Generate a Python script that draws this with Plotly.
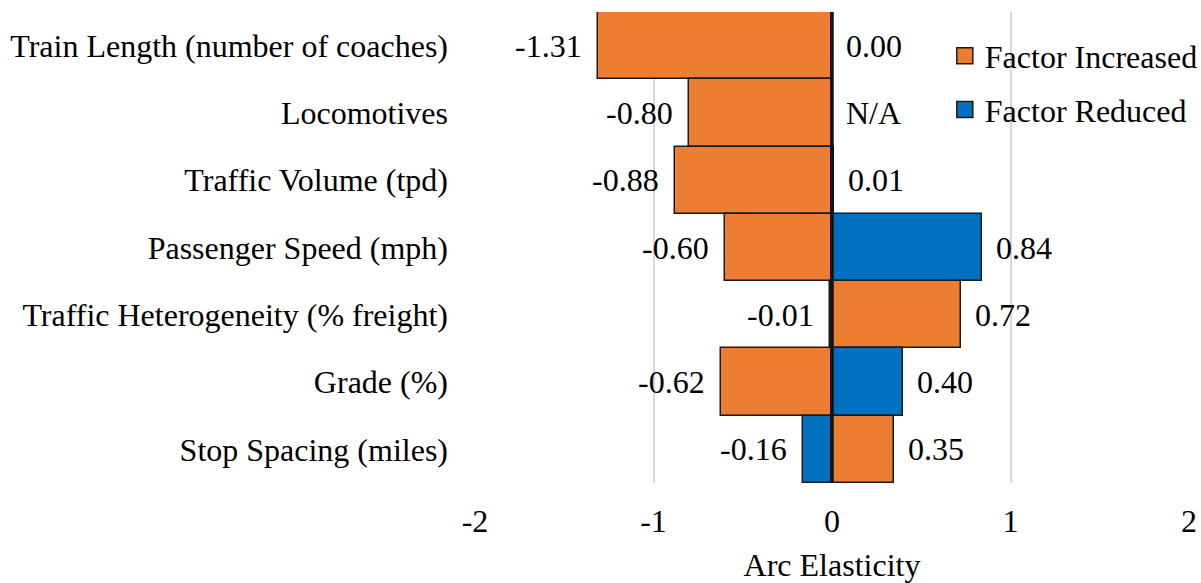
import plotly.graph_objects as go

categories = [
    "Train Length (number of coaches)",
    "Locomotives",
    "Traffic Volume (tpd)",
    "Passenger Speed (mph)",
    "Traffic Heterogeneity (% freight)",
    "Grade (%)",
    "Stop Spacing (miles)",
]
left_values = [-1.31, -0.80, -0.88, -0.60, -0.01, -0.62, -0.16]
left_groups = ["Increased", "Increased", "Increased", "Increased", "Increased", "Increased", "Reduced"]
left_labels = ["-1.31", "-0.80", "-0.88", "-0.60", "-0.01", "-0.62", "-0.16"]
right_values = [0.00, None, 0.01, 0.84, 0.72, 0.40, 0.35]
right_groups = ["Increased", "Increased", "Increased", "Reduced", "Increased", "Reduced", "Increased"]
right_labels = ["0.00", "N/A", "0.01", "0.84", "0.72", "0.40", "0.35"]
x_ticks = [-2, -1, 0, 1, 2]

COLORS = {"Increased": "#ED7D31", "Reduced": "#0070C0"}
LEGEND_NAMES = {"Increased": "Factor Increased", "Reduced": "Factor Reduced"}
FONT = "Liberation Serif"
FS = 32

fig = go.Figure()
fig.add_trace(go.Bar(
    y=categories, x=left_values, orientation="h",
    marker=dict(color=[COLORS[g] for g in left_groups], line=dict(color="#1a1a1a", width=1.5)),
    showlegend=False, hoverinfo="x+y",
))
fig.add_trace(go.Bar(
    y=categories, x=right_values, orientation="h",
    marker=dict(color=[COLORS[g] for g in right_groups], line=dict(color="#1a1a1a", width=1.5)),
    showlegend=False, hoverinfo="x+y",
))
for key in ["Increased", "Reduced"]:
    fig.add_trace(go.Scatter(
        x=[None], y=[None], mode="markers", name=LEGEND_NAMES[key],
        legendgroup=key,
        marker=dict(symbol="square", size=16, color=COLORS[key], line=dict(color="#1a1a1a", width=1.5)),
    ))

for cat, v, t in zip(categories, left_values, left_labels):
    fig.add_annotation(x=v if v is not None else 0, y=cat, text=t, showarrow=False,
                       xanchor="right", xshift=-14, font=dict(family=FONT, size=FS, color="black"))
for cat, v, t in zip(categories, right_values, right_labels):
    fig.add_annotation(x=v if v is not None else 0, y=cat, text=t, showarrow=False,
                       xanchor="left", xshift=12, font=dict(family=FONT, size=FS, color="black"))

# zero axis line drawn above the bars
fig.add_vline(x=0, line=dict(color="#111111", width=3.5), layer="above")

fig.update_layout(
    width=1201, height=583,
    margin=dict(l=475, r=12, t=12, b=100, autoexpand=False),
    paper_bgcolor="white", plot_bgcolor="white",
    barmode="relative", bargap=0,
    font=dict(family=FONT, size=FS, color="black"),
    legend=dict(x=0.658, y=0.965, xanchor="left", yanchor="top",
                font=dict(family=FONT, size=FS), tracegroupgap=9,
                bgcolor="rgba(0,0,0,0)"),
    xaxis=dict(range=[-2, 2], tickvals=x_ticks, ticktext=[str(v) for v in x_ticks],
               showgrid=True, gridcolor="#d9d9d9", gridwidth=1.5,
               zeroline=False,
               showline=False, ticks="", ticklabelstandoff=16, automargin=False,
               title=dict(text="Arc Elasticity", standoff=16, font=dict(family=FONT, size=FS))),
    yaxis=dict(autorange="reversed", showgrid=False, showline=False, ticks="", automargin=False,
               ticklabelstandoff=26, categoryorder="array", categoryarray=categories),
)

fig.write_html("out.html", config={"displayModeBar": False},
               post_script="document.body.style.margin='0';")
